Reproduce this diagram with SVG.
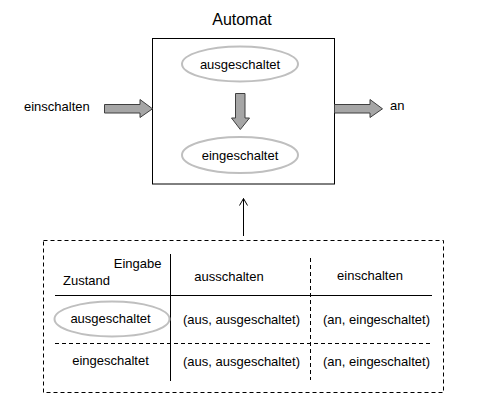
<svg xmlns="http://www.w3.org/2000/svg" width="487" height="402" viewBox="0 0 487 402">
<defs>
<style>
text{font-family:"Liberation Sans",Arial,sans-serif;font-size:13px;fill:#000}
.st{fill:none;stroke:#bfbfbf;stroke-width:2}
.ba{fill:#a6a6a6;stroke:#3f3f3f;stroke-width:1}
.ln{stroke:#000;stroke-width:1;fill:none}
.dl{stroke:#000;stroke-width:1;fill:none;stroke-dasharray:4,3}
</style>
<marker id="ah" markerWidth="10" markerHeight="10" refX="9" refY="5" orient="auto" markerUnits="userSpaceOnUse" viewBox="0 0 10 10">
<path d="M2,1 L9,5 L2,9" fill="none" stroke="#000" stroke-width="1"/>
</marker>
</defs>
<rect width="487" height="402" fill="#fff"/>
<g id="automat">
<text x="242" y="25" text-anchor="middle" style="font-size:16px">Automat</text>
<rect x="152.5" y="38.5" width="182" height="145.5" fill="#fff" stroke="#000" stroke-width="1"/>
</g>
<g id="state-aus">
<ellipse class="st" cx="240" cy="64" rx="58" ry="17.5"/>
<text x="240" y="68.5" text-anchor="middle">ausgeschaltet</text>
</g>
<g id="state-ein">
<ellipse class="st" cx="240" cy="155" rx="58" ry="18"/>
<text x="240" y="159.5" text-anchor="middle">eingeschaltet</text>
</g>
<g id="input">
<text x="24" y="111">einschalten</text>
</g>
<g id="output">
<text x="390" y="110">an</text>
</g>
<g id="connectors">
<path class="ba" d="M104.5,104.5 H140 V99.5 L152.5,108.8 L140,117.5 V113 H104.5 Z"/>
<path class="ba" d="M334.5,104.5 H370 V99.5 L382.5,108.8 L370,117.5 V113 H334.5 Z"/>
<path class="ba" d="M235.5,93.5 H245 V118 H249.5 L240.3,129.5 L231.5,118 H235.5 Z"/>
<line class="ln" x1="243.5" y1="236" x2="243.5" y2="198.5" marker-end="url(#ah)"/>
</g>
<g id="table">
<rect class="dl" x="43.5" y="240.5" width="400" height="152"/>
<line class="ln" x1="170.5" y1="254" x2="170.5" y2="381"/>
<line class="dl" x1="310.5" y1="258" x2="310.5" y2="380"/>
<line class="ln" x1="55" y1="295.5" x2="432" y2="295.5"/>
<line class="dl" x1="55" y1="343.5" x2="432" y2="343.5"/>
<text x="161.5" y="267.5" text-anchor="end">Eingabe</text>
<text x="63" y="285">Zustand</text>
<text x="229" y="281" text-anchor="middle">ausschalten</text>
<text x="370" y="280" text-anchor="middle">einschalten</text>
<ellipse class="st" cx="112" cy="319" rx="57.5" ry="17.5"/>
<text x="110.5" y="323" text-anchor="middle">ausgeschaltet</text>
<text x="241.5" y="323.5" text-anchor="middle">(aus, ausgeschaltet)</text>
<text x="376.5" y="323.5" text-anchor="middle">(an, eingeschaltet)</text>
<text x="110.5" y="365" text-anchor="middle">eingeschaltet</text>
<text x="241.5" y="366" text-anchor="middle">(aus, ausgeschaltet)</text>
<text x="376.5" y="366" text-anchor="middle">(an, eingeschaltet)</text>
</g>
</svg>
